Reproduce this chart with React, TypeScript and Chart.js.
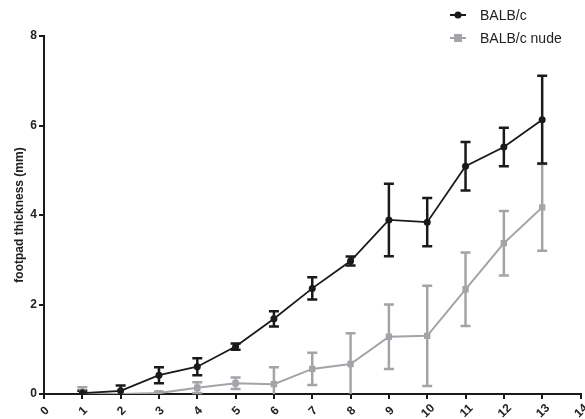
import React, { useEffect, useRef } from "react";
import { Chart, registerables } from "chart.js";

Chart.register(...registerables);

const days = [1, 2, 3, 4, 5, 6, 7, 8, 9, 10, 11, 12, 13];
const balbMean = [0.02, 0.07, 0.42, 0.61, 1.06, 1.68, 2.36, 2.97, 3.89, 3.84, 5.09, 5.52, 6.13];
const balbErr = [0.05, 0.12, 0.18, 0.19, 0.07, 0.17, 0.25, 0.1, 0.81, 0.54, 0.54, 0.43, 0.98];
const nudeMean = [0.02, 0.0, 0.02, 0.14, 0.24, 0.22, 0.56, 0.67, 1.28, 1.3, 2.34, 3.37, 4.17];
const nudeErr = [0.13, 0.0, 0.03, 0.12, 0.13, 0.38, 0.36, 0.69, 0.72, 1.12, 0.82, 0.72, 0.97];
const xTickLabels = ["0", "1", "2", "3", "4", "5", "6", "7", "8", "9", "10", "11", "12", "13", "14"];
const seriesNames = ["BALB/c", "BALB/c nude"];
const yTitle = "footpad thickness (mm)";

const BLACK = "#1a1a1a";
const GREY = "#a3a4a8";
const FONT = "'Liberation Sans', Arial, sans-serif";

const errorBars = {
  id: "errorBars",
  beforeDatasetsDraw(chart: any) {
    const ctx = chart.ctx;
    const xs = chart.scales.x;
    const ys = chart.scales.y;
    const sets = [
      { mean: nudeMean, err: nudeErr, color: GREY },
      { mean: balbMean, err: balbErr, color: BLACK },
    ];
    ctx.save();
    for (const s of sets) {
      ctx.strokeStyle = s.color;
      ctx.lineWidth = 2.5;
      days.forEach((d, i) => {
        if (!s.err[i]) return;
        const px = xs.getPixelForValue(d);
        const top = ys.getPixelForValue(s.mean[i] + s.err[i]);
        const bot = ys.getPixelForValue(Math.max(0, s.mean[i] - s.err[i]));
        ctx.beginPath();
        ctx.moveTo(px, top);
        ctx.lineTo(px, bot);
        ctx.moveTo(px - 5, top);
        ctx.lineTo(px + 5, top);
        if (s.mean[i] - s.err[i] > 0) {
          ctx.moveTo(px - 5, bot);
          ctx.lineTo(px + 5, bot);
        }
        ctx.stroke();
      });
    }
    ctx.restore();
  },
};

const xLabels = {
  id: "xLabels",
  afterDraw(chart: any) {
    const ctx = chart.ctx;
    const xs = chart.scales.x;
    ctx.save();
    ctx.fillStyle = "#222";
    ctx.font = `bold 12px ${FONT}`;
    ctx.textAlign = "center";
    ctx.textBaseline = "middle";
    xTickLabels.forEach((lab, i) => {
      const px = xs.getPixelForValue(i);
      ctx.save();
      ctx.translate(px + 1, xs.top + 17);
      ctx.rotate(-Math.PI / 4);
      ctx.fillText(lab, 0, 0);
      ctx.restore();
    });
    ctx.restore();
  },
};

const customLegend = {
  id: "customLegend",
  afterDraw(chart: any) {
    const ctx = chart.ctx;
    ctx.save();
    const items = [
      { name: seriesNames[0], color: BLACK, shape: "circle", y: 15 },
      { name: seriesNames[1], color: GREY, shape: "square", y: 38 },
    ];
    for (const it of items) {
      ctx.strokeStyle = it.color;
      ctx.fillStyle = it.color;
      ctx.lineWidth = 2;
      ctx.beginPath();
      ctx.moveTo(450, it.y);
      ctx.lineTo(466, it.y);
      ctx.stroke();
      if (it.shape === "circle") {
        ctx.beginPath();
        ctx.arc(458, it.y, 3.5, 0, Math.PI * 2);
        ctx.fill();
      } else {
        ctx.fillRect(454, it.y - 4, 8, 8);
      }
      ctx.fillStyle = "#222";
      ctx.font = `14px ${FONT}`;
      ctx.textBaseline = "middle";
      ctx.textAlign = "left";
      ctx.fillText(it.name, 480, it.y + 1);
    }
    ctx.restore();
  },
};

export default function App() {
  const ref = useRef<HTMLCanvasElement>(null);
  useEffect(() => {
    const chart = new Chart(ref.current!, {
      type: "line",
      data: {
        datasets: [
          {
            label: seriesNames[0],
            data: days.map((d, i) => ({ x: d, y: balbMean[i] })),
            borderColor: BLACK,
            backgroundColor: BLACK,
            borderWidth: 1.8,
            pointStyle: "circle",
            pointRadius: 3.5,
            pointBorderWidth: 0,
          },
          {
            label: seriesNames[1],
            data: days.map((d, i) => ({ x: d, y: nudeMean[i] })),
            borderColor: GREY,
            backgroundColor: GREY,
            borderWidth: 2,
            pointStyle: "rect",
            pointRadius: 4.5,
            pointBorderWidth: 0,
          },
        ],
      },
      options: {
        responsive: false,
        animation: false,
        layout: { padding: { top: 36, right: 3, left: 0, bottom: 0 } },
        plugins: { legend: { display: false }, tooltip: { enabled: false } },
        scales: {
          x: {
            type: "linear",
            min: 0,
            max: 14,
            afterFit: (s: any) => { s.height = 25; },
            grid: { display: true, drawOnChartArea: false, color: BLACK, lineWidth: 2, tickLength: 5 },
            border: { color: BLACK, width: 2 },
            ticks: { stepSize: 1, display: false },
          },
          y: {
            min: 0,
            max: 8,
            afterFit: (s: any) => { s.width = 44; },
            grid: { display: true, drawOnChartArea: false, color: BLACK, lineWidth: 2, tickLength: 5 },
            border: { color: BLACK, width: 2 },
            ticks: {
              stepSize: 2,
              color: "#222",
              padding: 2,
              font: { family: FONT, size: 12, weight: "bold" },
            },
            title: {
              display: true,
              text: yTitle,
              color: "#222",
              padding: { top: 12, bottom: 0 },
              font: { family: FONT, size: 12, weight: "bold" },
            },
          },
        },
      },
      plugins: [errorBars, xLabels, customLegend],
    });
    return () => chart.destroy();
  }, []);
  return (
    <div style={{ position: "absolute", left: 0, top: 0, width: 585, height: 419, background: "#fff" }}>
      <canvas ref={ref} width={585} height={419} />
    </div>
  );
}
